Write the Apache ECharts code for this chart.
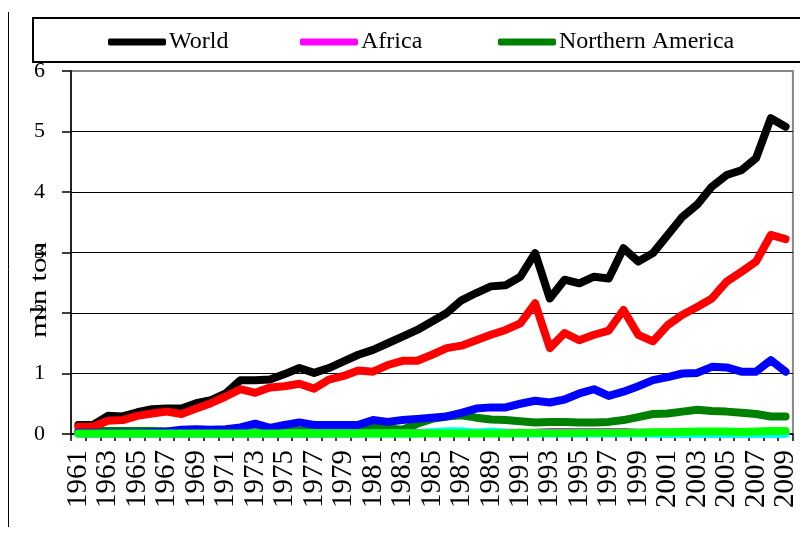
<!DOCTYPE html>
<html>
<head>
<meta charset="utf-8">
<script src="https://cdn.jsdelivr.net/npm/echarts@6/dist/echarts.min.js"></script>
<style>
html,body{margin:0;padding:0;background:#fff;}
#c{width:800px;height:539px;}
</style>
</head>
<body>
<div id="c"></div>
<script>
const years = [];
for (let y = 1961; y <= 2009; y++) years.push(String(y));

const yTicks = [0, 1, 2, 3, 4, 5, 6];

const world = [0.15,0.15,0.30,0.29,0.36,0.41,0.42,0.42,0.51,0.56,
  0.67,0.89,0.89,0.90,0.99,1.09,1.01,1.09,1.20,1.31,
  1.39,1.50,1.61,1.72,1.86,2.00,2.21,2.33,2.44,2.46,
  2.60,2.99,2.24,2.55,2.49,2.60,2.57,3.07,2.85,2.99,
  3.29,3.59,3.79,4.09,4.28,4.36,4.56,5.22,5.08];

const africa = [0.01,0.01,0.01,0.01,0.01,0.01,0.01,0.01,0.01,0.01,
  0.01,0.01,0.01,0.01,0.01,0.01,0.01,0.01,0.01,0.01,
  0.02,0.02,0.02,0.02,0.02,0.02,0.02,0.02,0.02,0.02,
  0.02,0.02,0.035,0.035,0.035,0.035,0.035,0.035,0.02,0.02,
  0.02,0.02,0.02,0.02,0.02,0.02,0.02,0.02,0.02];

const northernAmerica = [0.05,0.05,0.05,0.05,0.05,0.05,0.04,0.03,0.03,0.03,
  0.03,0.03,0.03,0.03,0.04,0.05,0.04,0.04,0.05,0.05,
  0.13,0.09,0.07,0.17,0.25,0.29,0.31,0.27,0.24,0.23,
  0.21,0.19,0.20,0.20,0.19,0.19,0.20,0.23,0.28,0.33,
  0.34,0.37,0.40,0.38,0.37,0.35,0.33,0.29,0.29];

const latinAmerica = [0.01,0.01,0.01,0.01,0.01,0.01,0.01,0.01,0.01,0.01,
  0.01,0.01,0.01,0.01,0.01,0.01,0.01,0.01,0.01,0.01,
  0.01,0.01,0.01,0.01,0.03,0.045,0.045,0.02,0.04,0.02,
  0.01,0.01,0.01,0.01,0.01,0.01,0.01,0.01,0.01,0.005,
  0.0,0.0,0.0,0.0,0.0,0.0,0.0,0.0,0.0];

const asia = [0.12,0.12,0.22,0.23,0.30,0.34,0.37,0.33,0.42,0.51,
  0.62,0.74,0.68,0.77,0.79,0.83,0.75,0.90,0.96,1.05,
  1.03,1.14,1.21,1.21,1.31,1.42,1.46,1.55,1.64,1.72,
  1.83,2.16,1.42,1.67,1.55,1.64,1.71,2.05,1.64,1.53,
  1.80,1.97,2.10,2.24,2.52,2.68,2.85,3.29,3.22];

const europe = [0.02,0.02,0.02,0.02,0.02,0.03,0.04,0.07,0.08,0.07,
  0.08,0.11,0.17,0.10,0.15,0.19,0.15,0.15,0.15,0.15,
  0.23,0.20,0.23,0.25,0.27,0.29,0.35,0.42,0.44,0.44,
  0.50,0.55,0.52,0.57,0.67,0.74,0.63,0.70,0.79,0.89,
  0.94,1.00,1.01,1.11,1.10,1.03,1.03,1.22,1.03];

const oceania = [0.01,0.01,0.01,0.01,0.01,0.01,0.01,0.01,0.01,0.01,
  0.01,0.01,0.01,0.01,0.01,0.01,0.01,0.01,0.01,0.01,
  0.01,0.01,0.01,0.01,0.01,0.01,0.01,0.01,0.01,0.01,
  0.015,0.015,0.015,0.015,0.02,0.02,0.02,0.02,0.02,0.03,
  0.03,0.035,0.04,0.04,0.04,0.035,0.04,0.05,0.05];

const seriesDefs = [
  {name: 'World', data: world, color: '#000000'},
  {name: 'Africa', data: africa, color: '#ff00ff'},
  {name: 'Northern America', data: northernAmerica, color: '#008000'},
  {name: 'Latin America', data: latinAmerica, color: '#00ffff'},
  {name: 'Asia', data: asia, color: '#ff0000'},
  {name: 'Europe', data: europe, color: '#0000ff'},
  {name: 'Oceania', data: oceania, color: '#00ff00'}
];

const serif = 'Liberation Serif, Times New Roman, serif';

const chart = echarts.init(document.getElementById('c'), null, {renderer: 'canvas'});

function legendAt(name, left) {
  return {
    data: [name],
    left: left,
    top: 30,
    padding: 0,
    itemWidth: 58,
    itemHeight: 7,
    icon: 'roundRect',
    selectedMode: false,
    textStyle: {fontFamily: serif, fontSize: 24, color: '#000', padding: [0, 0, 0, -2]}
  };
}

chart.setOption({
  animation: false,
  backgroundColor: '#fff',
  grid: {left: 71, right: 2, top: 71, bottom: 105, show: true, borderColor: '#888', borderWidth: 2, backgroundColor: 'transparent'},
  legend: [
    legendAt('World', 108),
    legendAt('Africa', 300),
    legendAt('Northern America', 498)
  ],
  xAxis: {
    type: 'category',
    data: years,
    boundaryGap: true,
    axisLine: {lineStyle: {color: '#000', width: 1.5}},
    axisTick: {show: true, interval: 0, length: 7, lineStyle: {color: '#000', width: 1.5}},
    axisLabel: {interval: 1, rotate: 90, margin: 16, fontFamily: serif, fontSize: 29, color: '#000', showMinLabel: true, showMaxLabel: true},
    splitLine: {show: false}
  },
  yAxis: {
    type: 'value',
    min: yTicks[0],
    max: yTicks[yTicks.length - 1],
    interval: 1,
    axisLine: {show: true, lineStyle: {color: '#000', width: 1.5}},
    axisTick: {show: true, length: 9, lineStyle: {color: '#000', width: 1.5}},
    axisLabel: {margin: 26, fontFamily: serif, fontSize: 22, color: '#000'},
    splitLine: {show: true, showMaxLine: false, lineStyle: {color: '#000', width: 1.2}}
  },
  graphic: [
    {type: 'line', shape: {x1: 8.5, y1: 12, x2: 8.5, y2: 527}, style: {stroke: '#000', lineWidth: 1}},
    {type: 'rect', shape: {x: 33, y: 18, width: 790, height: 44}, style: {fill: 'none', stroke: '#000', lineWidth: 2}},
    {type: 'text', x: 40, y: 290, rotation: Math.PI / 2, scaleX: 1.3,
      style: {text: 'mln ton', font: '24px ' + serif, fill: '#000', textAlign: 'center', textVerticalAlign: 'middle'}}
  ],
  series: seriesDefs.map(s => ({
    name: s.name,
    type: 'line',
    data: s.data,
    showSymbol: false,
    symbol: 'none',
    color: s.color,
    lineStyle: {color: s.color, width: 8, cap: 'round', join: 'round'}
  }))
});
</script>
</body>
</html>
